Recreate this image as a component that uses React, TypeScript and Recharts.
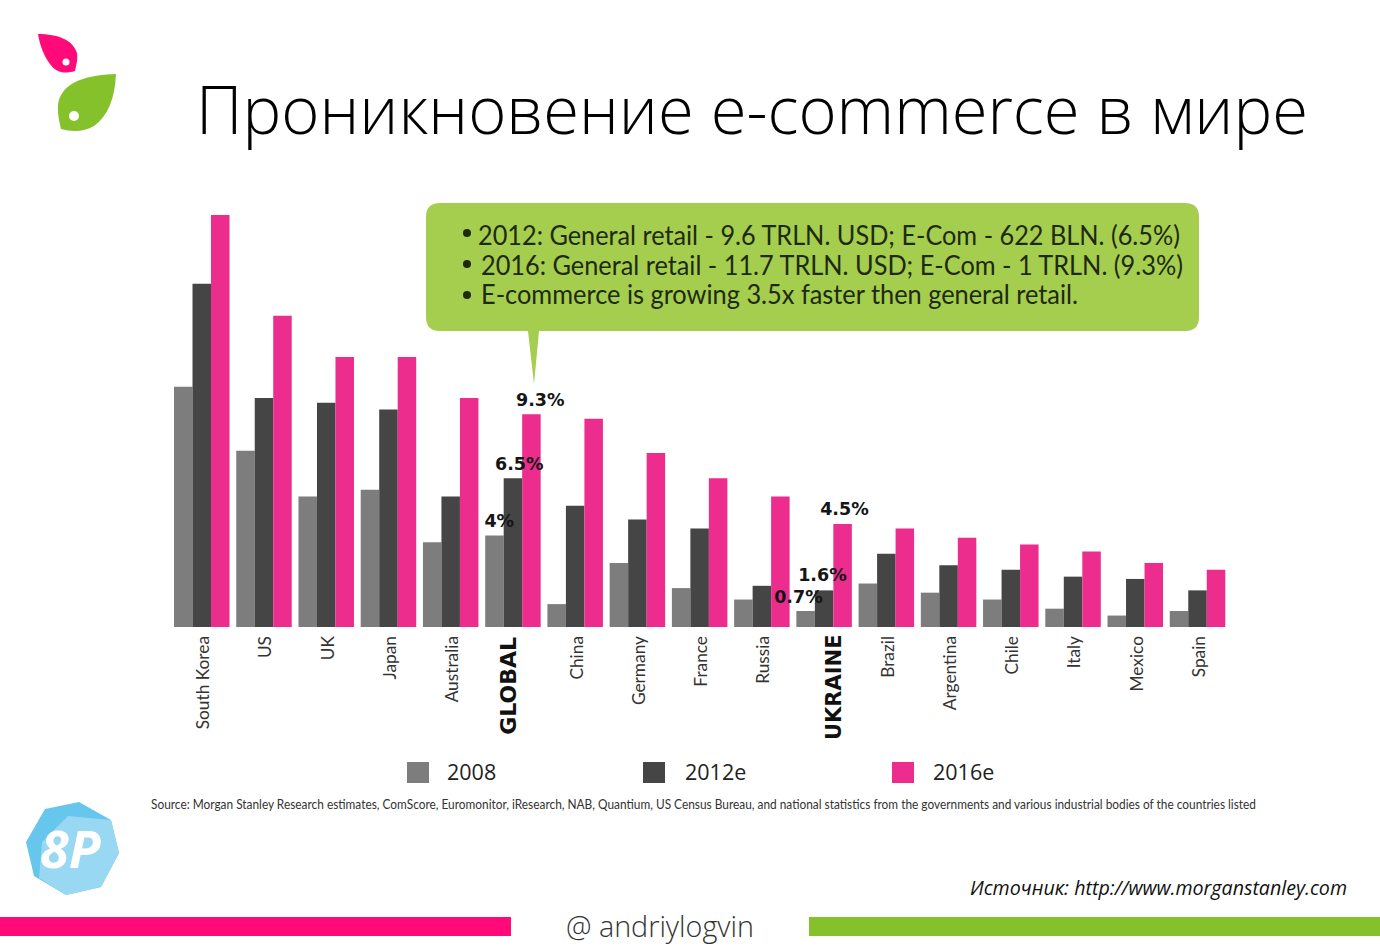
import React from "react";
import { ComposedChart, Bar, Line, XAxis, YAxis, Legend } from "recharts";

const categories = ["South Korea","US","UK","Japan","Australia","GLOBAL","China","Germany","France","Russia","UKRAINE","Brazil","Argentina","Chile","Italy","Mexico","Spain"];
const values2008 = [10.5,7.7,5.7,6,3.7,4,1,2.8,1.7,1.2,0.7,1.9,1.5,1.2,0.8,0.5,0.7];
const values2012 = [15,10,9.8,9.5,5.7,6.5,5.3,4.7,4.3,1.8,1.6,3.2,2.7,2.5,2.2,2.1,1.6];
const values2016 = [18,13.6,11.8,11.8,10,9.3,9.1,7.6,6.5,5.7,4.5,4.3,3.9,3.6,3.3,2.8,2.5];
const highlighted = ["GLOBAL","UKRAINE"];
const seriesNames = ["2008","2012e","2016e"];
const seriesColors = ["#7d7d7d","#454545","#ec2d8d"];
const calloutLines = [
  "2012: General retail - 9.6 TRLN. USD; E-Com - 622 BLN. (6.5%)",
  "2016: General retail - 11.7 TRLN. USD; E-Com - 1 TRLN. (9.3%)",
  "E-commerce is growing 3.5x faster then general retail.",
];
const sourceText = "Source: Morgan Stanley Research estimates, ComScore, Euromonitor, iResearch, NAB, Quantium, US Census Bureau, and national statistics from the governments and various industrial bodies of the countries listed";

const chartData = categories.map((name, i) => ({
  name,
  v2008: values2008[i],
  v2012: values2012[i],
  v2016: values2016[i],
  l2008: highlighted.includes(name) ? values2008[i] : null,
  l2012: highlighted.includes(name) ? values2012[i] : null,
  l2016: highlighted.includes(name) ? values2016[i] : null,
}));

const labelFont = "'DejaVu Sans', sans-serif";
const bodyFont = "Lato, sans-serif";

const labelOffsets: Record<string, Record<string, number[]>> = {
  l2008: { GLOBAL: [-14, -8], UKRAINE: [-26, -8] },
  l2012: { GLOBAL: [6, -8], UKRAINE: [-2, -9] },
  l2016: { GLOBAL: [27, -8], UKRAINE: [20, -9] },
};
const boldTick: Record<string, { dx: number; y: number; size: number }> = {
  GLOBAL: { dx: 3, y: 637, size: 22 },
  UKRAINE: { dx: 17, y: 634.5, size: 21 },
};

const makeLabel = (key: string) => (p: any) => {
  const name = categories[p.index];
  if (p.value == null || !highlighted.includes(name)) return null;
  const [dx, dy] = labelOffsets[key][name];
  return (
    <text x={p.x + dx} y={p.y + dy} textAnchor="middle" fontFamily={labelFont} fontWeight={700} fontSize={17.5} fill="#151515">
      {p.value}%
    </text>
  );
};

const CategoryTick = (p: any) => {
  const v = p.payload.value;
  const b = boldTick[v];
  return (
    <text
      transform={`translate(${p.x + (b ? b.dx : 7)},${b ? b.y : 636}) rotate(-90)`}
      textAnchor="end"
      fontFamily={b ? labelFont : bodyFont}
      fontWeight={b ? 700 : 400}
      fontSize={b ? b.size : 17.3}
      fill={b ? "#111" : "#333"}
    >
      {v}
    </text>
  );
};

const legendSquareX = [407, 643, 892];
const legendTextX = [447, 685, 933];
const ChartLegend = (p: any) => (
  <div style={{ position: "relative", height: 0 }}>
    {(p.payload || []).filter((e: any) => seriesNames.includes(e.value)).map((e: any, i: number) => (
      <React.Fragment key={e.value}>
        <span style={{ position: "absolute", left: legendSquareX[i], top: 762, width: 22, height: 21, background: e.color }} />
        <span style={{ position: "absolute", left: legendTextX[i], top: 756, fontFamily: "'Open Sans', sans-serif", fontSize: 21.5, lineHeight: "32px", color: "#222", whiteSpace: "nowrap" }}>{e.value}</span>
      </React.Fragment>
    ))}
  </div>
);

export default function App() {
  return (
    <div style={{ position: "absolute", left: 0, top: 0, width: 1380, height: 946, background: "#fff", overflow: "hidden" }}>
      <svg width={1380} height={946} style={{ position: "absolute", left: 0, top: 0 }}>
        <path d="M38 34 C58 34 73 40 77 53 C78 60 76 66 75 71 C65 74 56 73 50 64 C44 56 40 46 38 34 Z" fill="#ff0a78" />
        <circle cx={66} cy={62} r={3.5} fill="#fff" />
        <path d="M116 74 C90 75 72 80 63 92 C56 101 57 112 61 129 C72 132 84 132 94 126 C108 116 115 98 116 74 Z" fill="#84c12b" />
        <circle cx={74} cy={116} r={5} fill="#fff" />
        <text x={196} y={134} textLength={1112} lengthAdjust="spacingAndGlyphs" fontFamily="'Open Sans', sans-serif" fontWeight={360} fontSize={66} fill="#000">Проникновение e-commerce в мире</text>

        <path d="M440 203 H1185 Q1199 203 1199 217 V317 Q1199 331 1185 331 H539 L534 384 L528 331 H440 Q426 331 426 317 V217 Q426 203 440 203 Z" fill="#a5cd4e" />
        <circle cx={467} cy={233} r={4} fill="#1e2a10" />
        <circle cx={467} cy={264} r={4} fill="#1e2a10" />
        <circle cx={467} cy={295} r={4} fill="#1e2a10" />
        <text x={478} y={245} textLength={702} lengthAdjust="spacingAndGlyphs" fontFamily={bodyFont} fontSize={26} fill="#1e2a10">{calloutLines[0]}</text>
        <text x={481} y={275} textLength={702} lengthAdjust="spacingAndGlyphs" fontFamily={bodyFont} fontSize={26} fill="#1e2a10">{calloutLines[1]}</text>
        <text x={481} y={304} textLength={597} lengthAdjust="spacingAndGlyphs" fontFamily={bodyFont} fontSize={26} fill="#1e2a10">{calloutLines[2]}</text>

        <text x={151} y={809} textLength={1105} lengthAdjust="spacingAndGlyphs" fontFamily={bodyFont} fontSize={12.5} fill="#333">{sourceText}</text>

        <polygon points="79,802 111,820 119,853 101,887 66,895 34,876 26,842 45,809" fill="#66c6ec" />
        <polygon points="68,816 111,820 119,853 101,887 66,895 39,878 42,842" fill="#98d8f3" />
        <text x={40} y={868} fontFamily="'Open Sans', sans-serif" fontStyle="italic" fontWeight={700} fontSize={52} fill="#fff">8P</text>

        <text x={970} y={895} textLength={377} lengthAdjust="spacingAndGlyphs" fontFamily="'Open Sans', sans-serif" fontStyle="italic" fontSize={20} fill="#111">Источник: http://www.morganstanley.com</text>

        <rect x={0} y={917} width={511} height={19} fill="#ff0a78" />
        <rect x={809} y={917} width={571} height={19} fill="#84c12b" />
        <text x={566} y={937} textLength={188} lengthAdjust="spacingAndGlyphs" fontFamily="'Open Sans', sans-serif" fontWeight={300} fontSize={30} fill="#333">@ andriylogvin</text>
      </svg>

      <div style={{ position: "absolute", left: 0, top: 0 }}>
        <ComposedChart width={1380} height={946} data={chartData} barSize={18.5} barGap={0} margin={{ top: 215, right: 151, bottom: 209, left: 171 }}>
          <XAxis dataKey="name" axisLine={false} tickLine={false} interval={0} height={110} tick={<CategoryTick />} />
          <YAxis hide domain={[0, 18]} />
          <Legend content={<ChartLegend />} wrapperStyle={{ left: 0, top: 0, bottom: "auto", width: 1380, height: 0 }} />
          <Bar dataKey="v2008" name={seriesNames[0]} fill={seriesColors[0]} isAnimationActive={false} />
          <Bar dataKey="v2012" name={seriesNames[1]} fill={seriesColors[1]} isAnimationActive={false} />
          <Bar dataKey="v2016" name={seriesNames[2]} fill={seriesColors[2]} isAnimationActive={false} />
          <Line dataKey="l2008" stroke="none" dot={false} legendType="none" label={makeLabel("l2008")} isAnimationActive={false} />
          <Line dataKey="l2012" stroke="none" dot={false} legendType="none" label={makeLabel("l2012")} isAnimationActive={false} />
          <Line dataKey="l2016" stroke="none" dot={false} legendType="none" label={makeLabel("l2016")} isAnimationActive={false} />
        </ComposedChart>
      </div>
    </div>
  );
}
